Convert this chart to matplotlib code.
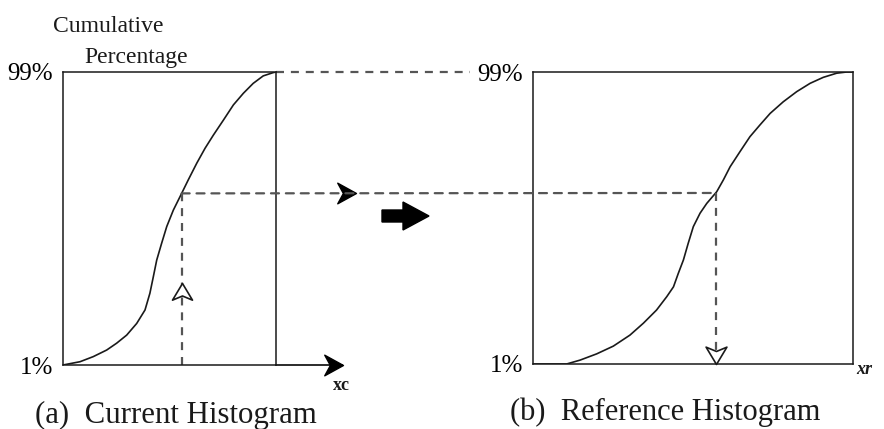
import numpy as np
import matplotlib.pyplot as plt
from matplotlib.path import Path
from matplotlib.patches import ConnectionPatch, FancyArrow

plt.rcParams["font.family"] = ["Liberation Serif", "DejaVu Serif"]

# cumulative histogram of the current image (normalised grey level -> %)
xc = [0.0, 0.080, 0.142, 0.205, 0.252, 0.299, 0.346, 0.385, 0.408, 0.424,
      0.440, 0.463, 0.487, 0.518, 0.557, 0.588, 0.628, 0.667, 0.706, 0.753,
      0.800, 0.847, 0.893, 0.940, 0.987, 1.0]
cum_c = [1.0, 2.1, 3.8, 6.0, 8.3, 11.0, 14.9, 19.4, 25.0, 30.5,
         36.1, 41.7, 47.3, 52.8, 58.4, 62.9, 68.5, 73.5, 77.9, 82.9,
         88.0, 91.9, 95.2, 97.7, 98.8, 99.0]

# cumulative histogram of the reference image
xr = [0.0, 0.105, 0.147, 0.199, 0.251, 0.303, 0.345, 0.386, 0.418, 0.439,
      0.454, 0.470, 0.485, 0.501, 0.522, 0.543, 0.574, 0.595, 0.616, 0.647,
      0.678, 0.709, 0.741, 0.782, 0.824, 0.866, 0.907, 0.949, 0.980, 1.0]
cum_r = [1.0, 1.0, 2.3, 4.4, 7.0, 10.7, 14.7, 19.1, 23.6, 26.9,
         31.4, 35.9, 41.5, 47.1, 51.6, 54.9, 58.8, 62.8, 67.2, 72.3,
         77.3, 81.2, 85.1, 89.0, 92.4, 95.2, 97.2, 98.6, 99.0, 99.0]

ytick_vals = [1, 99]
ytick_labels = ["1%", "99%"]
xc_in = 0.557

W, H = 884, 429
INK = "#1a1a1a"
DASH = "#555555"
dash_style = (0, (3.6, 3.1))

# arrow head shapes, tip at the origin
head_right = Path([(0, 0), (-1, 0.55), (-0.7, 0), (-1, -0.55), (0, 0)],
                  [Path.MOVETO, Path.LINETO, Path.LINETO, Path.LINETO, Path.CLOSEPOLY])
head_up = Path([(0, 0), (0.6, -1), (0, -0.75), (-0.6, -1), (0, 0)],
               [Path.MOVETO, Path.LINETO, Path.LINETO, Path.LINETO, Path.CLOSEPOLY])
head_down = Path([(0, 0), (0.6, 1), (0, 0.75), (-0.6, 1), (0, 0)],
                 [Path.MOVETO, Path.LINETO, Path.LINETO, Path.LINETO, Path.CLOSEPOLY])


def px_box(l, t, r, b):
    return [l / W, 1 - b / H, (r - l) / W, (b - t) / H]


def setup_panel(ax):
    ax.set_xlim(0, 1)
    ax.set_ylim(1, 99)
    ax.set_xticks([])
    ax.set_yticks(ytick_vals)
    ax.set_yticklabels(ytick_labels, fontsize=18)
    ax.tick_params(axis="y", length=0, pad=7)
    for s in ax.spines.values():
        s.set_linewidth(1.1)
        s.set_color(INK)
    ax.patch.set_alpha(0)


fig = plt.figure(figsize=(W / 100, H / 100), dpi=100)
ax1 = fig.add_axes(px_box(63, 72, 276, 365))
ax2 = fig.add_axes(px_box(533, 72, 853, 364))
setup_panel(ax1)
setup_panel(ax2)

ax1.plot(xc, cum_c, color=INK, lw=1.2)
ax2.plot(xr, cum_r, color=INK, lw=1.2)

# histogram matching: level on current curve -> same level on reference curve
level = np.interp(xc_in, xc, cum_c)
xr_out = np.interp(level, cum_r, xr)

dkw = dict(color=DASH, lw=1.6, linestyle=dash_style, clip_on=False)
ax1.plot([xc_in, xc_in], [1, level], **dkw)
ax2.plot([xr_out, xr_out], [level, 1], **dkw)
ax1.plot([1.0, 1.91], [99, 99], **dkw)
con = ConnectionPatch(xyA=(xc_in, level), coordsA=ax1.transData,
                      xyB=(xr_out, level), coordsB=ax2.transData,
                      color=DASH, lw=1.6, linestyle=dash_style)
fig.add_artist(con)

# arrow heads
ax1.plot([xc_in], [1 + 0.48 * (level - 1)], marker=head_up, ms=24,
         mfc="white", mec=INK, mew=1.2, clip_on=False, zorder=5)
ax2.plot([xr_out], [1.0], marker=head_down, ms=25,
         mfc="white", mec=INK, mew=1.2, clip_on=False, zorder=5)
ax1.plot([1.376], [level], marker=head_right, ms=27, color="black",
         clip_on=False, zorder=5)

# x axis arrow of the left panel
ax1.plot([1.0, 1.31], [1, 1], color=INK, lw=1.3, clip_on=False)
ax1.plot([1.315], [1], marker=head_right, ms=27, color="black", clip_on=False)

# overlay in pixel units for the big arrow and labels
ov = fig.add_axes([0, 0, 1, 1], zorder=-1)
ov.set_xlim(0, W)
ov.set_ylim(H, 0)
ov.axis("off")
ov.add_patch(FancyArrow(382, 216, 47, 0, width=12, head_width=28, head_length=26,
                        length_includes_head=True, color="black"))

ov.text(108, 32, "Cumulative", fontsize=17, ha="center", va="baseline", color=INK)
ov.text(136, 63, "Percentage", fontsize=17, ha="center", va="baseline", color=INK)
ov.text(341, 386, "xc", fontsize=13, fontweight="bold", ha="center", va="center", color=INK)
ov.text(864, 369, "xr", fontsize=13, fontweight="bold", fontstyle="italic",
        ha="center", va="center", color=INK)
ov.text(35, 423, "(a)  Current Histogram", fontsize=22.2, ha="left", va="baseline", color=INK)
ov.text(510, 420, "(b)  Reference Histogram", fontsize=22, ha="left", va="baseline", color=INK)

fig.savefig("out.png", dpi=100)
